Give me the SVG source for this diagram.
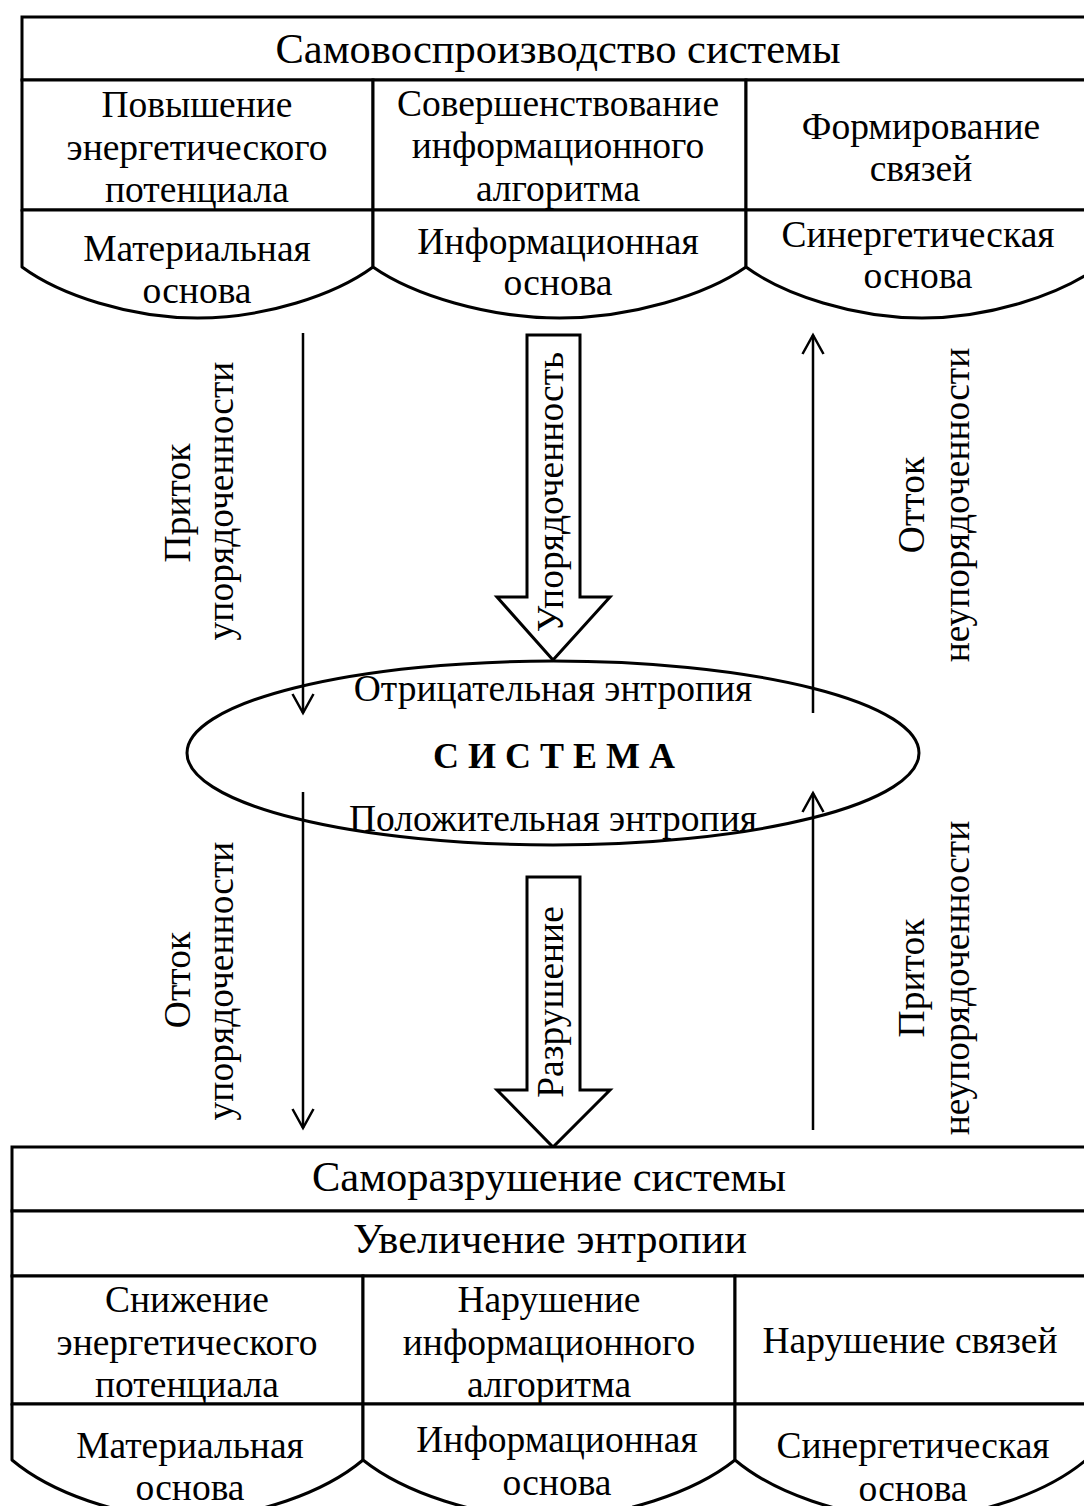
<svg xmlns="http://www.w3.org/2000/svg" width="1084" height="1506" viewBox="0 0 1084 1506">
<defs>
<style>
.ln{fill:#fff;stroke:#000;stroke-width:3}
.cyl{fill:#fff;stroke:#000;stroke-width:3;stroke-linejoin:round}
.t{font-family:"Liberation Serif","Times New Roman",serif;font-size:37.5px;fill:#000;text-anchor:middle}
.h{font-size:42.5px}
.b{font-weight:bold;font-size:36px}
.ar{fill:none;stroke:#000;stroke-width:2.5}
.big{fill:#fff;stroke:#000;stroke-width:3;stroke-linejoin:miter}
.wb{fill:#fff;stroke:none}
</style>
<marker id="head" markerUnits="userSpaceOnUse" markerWidth="24" markerHeight="24" viewBox="0 0 24 24" refX="20" refY="12" orient="auto">
<path d="M1,1.5 L20,12 L1,22.5" fill="none" stroke="#000" stroke-width="2.5"/>
</marker>
</defs>
<rect width="1084" height="1506" fill="#fff"/>

<g id="top-block">
<g id="top-title"><rect class="ln" x="22" y="17" width="1076" height="63"/><text class="t h" x="558" y="63">Самовоспроизводство системы</text></g>
<g id="top-c1"><rect class="ln" x="22" y="80" width="351" height="130"/><text class="t" x="197" y="117">Повышение</text><text class="t" x="197" y="160">энергетического</text><text class="t" x="197" y="202">потенциала</text></g>
<g id="top-c2"><rect class="ln" x="373" y="80" width="373" height="130"/><text class="t" x="558" y="116">Совершенствование</text><text class="t" x="558" y="158">информационного</text><text class="t" x="558" y="201">алгоритма</text></g>
<g id="top-c3"><rect class="ln" x="746" y="80" width="352" height="130"/><text class="t" x="921" y="139">Формирование</text><text class="t" x="921" y="181">связей</text></g>
<g id="top-b1"><path class="cyl" d="M22,210 V267 C60,295 130,318 197.5,318 C265,318 335,295 373,267 V210 Z"/><text class="t" x="197" y="261">Материальная</text><text class="t" x="197" y="303">основа</text></g>
<g id="top-b2"><path class="cyl" d="M373,210 V267 C413,295 488,318 559.5,318 C631,318 706,295 746,267 V210 Z"/><text class="t" x="558" y="254">Информационная</text><text class="t" x="558" y="295">основа</text></g>
<g id="top-b3"><path class="cyl" d="M746,210 V267 C784,295 855,318 922,318 C989,318 1060,295 1098,267 V210 Z"/><text class="t" x="918" y="247">Синергетическая</text><text class="t" x="918" y="288">основа</text></g>
</g>

<g id="system">
<ellipse class="ln" cx="553" cy="753" rx="366" ry="92"/>
<text class="t" x="553" y="701">Отрицательная энтропия</text>
<text class="t b" x="554" y="768">С И С Т Е М А</text>
<text class="t" x="553" y="831">Положительная энтропия</text>
</g>

<g id="order-arrow"><path class="big" d="M527,335 H580 V597 H610 L553,660 L497,597 H527 Z"/><text class="t" transform="translate(563,492) rotate(-90)">Упорядоченность</text></g>
<g id="destr-arrow"><path class="big" d="M527,877 H580 V1090 H610 L553,1147 L497,1090 H527 Z"/><text class="t" transform="translate(563,1002) rotate(-90)">Разрушение</text></g>

<g id="connectors">
<line class="ar" x1="303" y1="333" x2="303" y2="713" marker-end="url(#head)"/>
<line class="ar" x1="303" y1="792" x2="303" y2="1128" marker-end="url(#head)"/>
<line class="ar" x1="813" y1="713" x2="813" y2="335" marker-end="url(#head)"/>
<line class="ar" x1="813" y1="1130" x2="813" y2="793" marker-end="url(#head)"/>
</g>

<g id="labels">
<text class="t" transform="translate(190,503) rotate(-90)">Приток</text>
<text class="t" transform="translate(233,501) rotate(-90)">упорядоченности</text>
<text class="t" transform="translate(924,505) rotate(-90)">Отток</text>
<text class="t" transform="translate(969,505) rotate(-90)">неупорядоченности</text>
<text class="t" transform="translate(190,980) rotate(-90)">Отток</text>
<text class="t" transform="translate(233,981) rotate(-90)">упорядоченности</text>
<text class="t" transform="translate(924,978) rotate(-90)">Приток</text>
<text class="t" transform="translate(969,978) rotate(-90)">неупорядоченности</text>
</g>

<g id="bottom-block">
<g id="bot-title"><rect class="ln" x="12" y="1147" width="1074" height="64"/><text class="t h" x="549" y="1191">Саморазрушение системы</text></g>
<g id="bot-entropy"><rect class="ln" x="12" y="1211" width="1074" height="65"/><text class="t h" x="550" y="1253">Увеличение энтропии</text></g>
<g id="bot-c1"><rect class="ln" x="12" y="1276" width="351" height="128"/><text class="t" x="187" y="1312">Снижение</text><text class="t" x="187" y="1355">энергетического</text><text class="t" x="187" y="1397">потенциала</text></g>
<g id="bot-c2"><rect class="ln" x="363" y="1276" width="372" height="128"/><text class="t" x="549" y="1312">Нарушение</text><text class="t" x="549" y="1355">информационного</text><text class="t" x="549" y="1397">алгоритма</text></g>
<g id="bot-c3"><rect class="ln" x="735" y="1276" width="351" height="128"/><text class="t" x="910" y="1353">Нарушение связей</text></g>
<g id="bot-b1"><path class="cyl" d="M12,1404 V1460 C50,1492 120,1518 187.5,1518 C255,1518 325,1492 363,1460 V1404 Z"/><rect class="wb" x="115" y="1468" width="150" height="38"/><text class="t" x="190" y="1458">Материальная</text><text class="t" x="190" y="1500">основа</text></g>
<g id="bot-b2"><path class="cyl" d="M363,1404 V1460 C403,1492 478,1518 549,1518 C620,1518 695,1492 735,1460 V1404 Z"/><rect class="wb" x="482" y="1462" width="150" height="44"/><text class="t" x="557" y="1452">Информационная</text><text class="t" x="557" y="1495">основа</text></g>
<g id="bot-b3"><path class="cyl" d="M735,1404 V1460 C773,1492 843,1518 910.5,1518 C978,1518 1048,1492 1086,1460 V1404 Z"/><rect class="wb" x="838" y="1468" width="146" height="38"/><text class="t" x="913" y="1458">Синергетическая</text><text class="t" x="913" y="1501">основа</text></g>
</g>
</svg>
